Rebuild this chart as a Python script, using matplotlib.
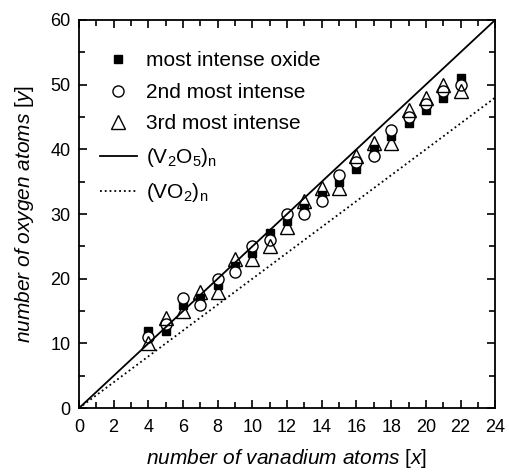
import numpy as np
import matplotlib
matplotlib.use("Agg")
import matplotlib.pyplot as plt
from matplotlib.ticker import MultipleLocator

plt.rcParams["font.family"] = ["Liberation Sans", "DejaVu Sans"]
plt.rcParams["mathtext.fontset"] = "custom"
plt.rcParams["mathtext.rm"] = "Liberation Sans"
plt.rcParams["mathtext.it"] = "Liberation Sans:italic"

# vanadium atoms
x_v = [4, 5, 6, 7, 8, 9, 10, 11, 12, 13, 14, 15, 16, 17, 18, 19, 20, 21, 22]

# oxygen atoms for the three most intense oxides
y_first = [12, 12, 16, 17, 19, 22, 24, 27, 29, 31, 33, 35, 37, 40, 42, 44, 46, 48, 51]
y_second = [11, 13, 17, 16, 20, 21, 25, 26, 30, 30, 32, 36, 38, 39, 43, 45, 47, 49, 50]
y_third = [10, 14, 15, 18, 18, 23, 23, 25, 28, 32, 34, 34, 39, 41, 41, 46, 48, 50, 49]

# stoichiometry lines
x_line = np.array([0, 24])
ratio_v2o5 = 2.5
ratio_vo2 = 2.0

fig = plt.figure(figsize=(5.09, 4.73), dpi=100)
ax = fig.add_axes([0.155, 0.137, 0.818, 0.821])

ax.plot(x_v, y_first, "s", color="black", ms=6, label="most intense oxide")
ax.plot(x_v, y_second, "o", mfc="white", mec="black", mew=1.0, ms=8, label="2nd most intense")
ax.plot(x_v, y_third, "^", mfc="none", mec="black", mew=1.0, ms=9.5, label="3rd most intense")
ax.plot(x_line, ratio_v2o5 * x_line, "-", color="black", lw=1.3,
        label=r"(V$_\mathrm{2}$O$_\mathrm{5}$)$_\mathrm{n}$")
ax.plot(x_line, ratio_vo2 * x_line, ":", color="black", lw=1.3,
        label=r"(VO$_\mathrm{2}$)$_\mathrm{n}$")

ax.set_xlim(0, 24)
ax.set_ylim(0, 60)
ax.xaxis.set_major_locator(MultipleLocator(2))
ax.xaxis.set_minor_locator(MultipleLocator(1))
ax.yaxis.set_major_locator(MultipleLocator(10))
ax.yaxis.set_minor_locator(MultipleLocator(5))
ax.tick_params(which="both", direction="in", top=True, right=True, labelsize=13, width=1.2)
ax.tick_params(which="major", length=6)
ax.tick_params(axis="x", which="major", pad=8)
ax.tick_params(axis="y", which="major", pad=6)
ax.tick_params(which="minor", length=4)
for s in ax.spines.values():
    s.set_linewidth(1.3)

ax.set_xlabel(r"number of vanadium atoms $\mathrm{[}x\mathrm{]}$", fontsize=15, style="italic", labelpad=8)
ax.set_ylabel(r"number of oxygen atoms $\mathrm{[}y\mathrm{]}$", fontsize=15, style="italic", labelpad=10)

ax.legend(loc="upper left", frameon=False, fontsize=15, handlelength=1.8,
          handletextpad=0.4, labelspacing=0.6, borderaxespad=0.0,
          bbox_to_anchor=(0.03, 0.94))

fig.savefig("out.png", dpi=100)
